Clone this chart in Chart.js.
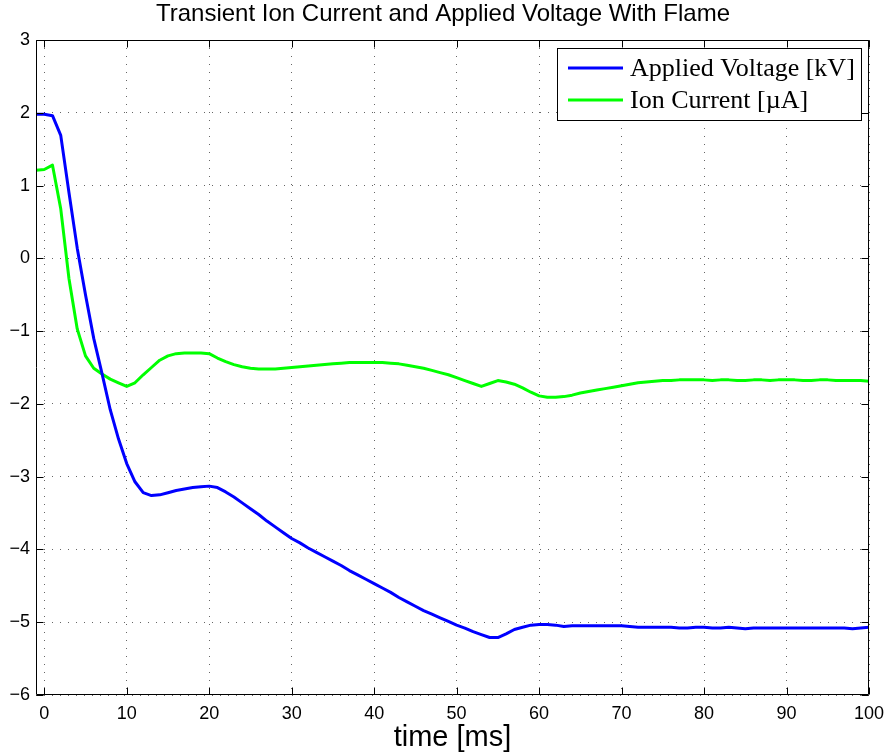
<!DOCTYPE html>
<html>
<head>
<meta charset="utf-8">
<script src="https://cdn.jsdelivr.net/npm/chart.js@4.4.0/dist/chart.umd.min.js"></script>
<style>
html, body { margin: 0; padding: 0; background: #fff; }
canvas { display: block; }
</style>
</head>
<body>
<canvas id="chart" width="886" height="755"></canvas>
<script>
const timeMs = [-1, 0, 1, 2, 3, 4, 5, 6, 7, 8, 9, 10, 11, 12, 13, 14, 15, 16, 17, 18, 19, 20,
    21, 22, 23, 24, 25, 26, 27, 28, 29, 30, 31, 32, 33, 34, 35, 36, 37, 38, 39, 40,
    41, 42, 43, 44, 45, 46, 47, 48, 49, 50, 51, 52, 53, 54, 55, 56, 57, 58, 59, 60,
    61, 62, 63, 64, 65, 66, 67, 68, 69, 70, 71, 72, 73, 74, 75, 76, 77, 78, 79, 80,
    81, 82, 83, 84, 85, 86, 87, 88, 89, 90, 91, 92, 93, 94, 95, 96, 97, 98, 99, 100];

const voltage = [1.98, 1.98, 1.96, 1.69, 0.90, 0.14, -0.50, -1.10, -1.58, -2.08, -2.48, -2.82,
    -3.07, -3.22, -3.26, -3.25, -3.22, -3.19, -3.17, -3.15, -3.14, -3.13,
    -3.15, -3.21, -3.28, -3.36, -3.44, -3.52, -3.61, -3.69, -3.77, -3.85,
    -3.91, -3.98, -4.04, -4.10, -4.16, -4.22, -4.29, -4.35, -4.41, -4.47,
    -4.53, -4.59, -4.66, -4.72, -4.78, -4.84, -4.89, -4.94, -4.99, -5.04,
    -5.08, -5.13, -5.17, -5.21, -5.21, -5.16, -5.10, -5.07, -5.04, -5.03,
    -5.03, -5.04, -5.06, -5.05, -5.05, -5.05, -5.05, -5.05, -5.05, -5.05,
    -5.06, -5.07, -5.07, -5.07, -5.07, -5.07, -5.08, -5.08, -5.07, -5.07,
    -5.08, -5.08, -5.07, -5.08, -5.09, -5.08, -5.08, -5.08, -5.08, -5.08,
    -5.08, -5.08, -5.08, -5.08, -5.08, -5.08, -5.08, -5.09, -5.08, -5.07];

const ionCurrent = [1.21, 1.22, 1.28, 0.68, -0.28, -0.97, -1.34, -1.51, -1.59, -1.66, -1.71, -1.76,
    -1.71, -1.60, -1.50, -1.40, -1.34, -1.31, -1.30, -1.30, -1.30, -1.31,
    -1.37, -1.42, -1.46, -1.49, -1.51, -1.52, -1.52, -1.52, -1.51, -1.50,
    -1.49, -1.48, -1.47, -1.46, -1.45, -1.44, -1.43, -1.43, -1.43, -1.43,
    -1.43, -1.44, -1.45, -1.47, -1.49, -1.51, -1.54, -1.57, -1.60, -1.64,
    -1.68, -1.72, -1.76, -1.72, -1.68, -1.70, -1.73, -1.78, -1.84, -1.89,
    -1.91, -1.91, -1.90, -1.88, -1.85, -1.83, -1.81, -1.79, -1.77, -1.75,
    -1.73, -1.71, -1.70, -1.69, -1.68, -1.68, -1.67, -1.67, -1.67, -1.67,
    -1.68, -1.67, -1.67, -1.68, -1.68, -1.67, -1.67, -1.68, -1.67, -1.67,
    -1.67, -1.68, -1.68, -1.67, -1.67, -1.68, -1.68, -1.68, -1.68, -1.69];

const xTicks = [0, 10, 20, 30, 40, 50, 60, 70, 80, 90, 100];
const yTicks = [-6, -5, -4, -3, -2, -1, 0, 1, 2, 3];

const sansFont = '"Liberation Sans", Arial, Helvetica, sans-serif';
const serifFont = '"Liberation Serif", "Times New Roman", serif';

function toPoints(values) {
    return timeMs.map((t, i) => ({ x: t, y: values[i] }));
}

// box round the plot with the inward ticks on all four sides
const frame = {
    id: 'frame',
    afterDatasetsDraw(chart) {
        const { ctx, chartArea: a, scales: { x, y } } = chart;
        const L = Math.round(a.left) + 0.5, R = Math.round(a.right) - 0.5;
        const T = Math.round(a.top) + 0.5, B = Math.round(a.bottom) - 0.5;
        const len = 7;
        ctx.save();
        ctx.strokeStyle = '#000';
        ctx.lineWidth = 1;
        ctx.beginPath();
        ctx.rect(L, T, R - L, B - T);
        xTicks.forEach(v => {
            const px = Math.round(x.getPixelForValue(v)) + 0.5;
            ctx.moveTo(px, B); ctx.lineTo(px, B - len);
            ctx.moveTo(px, T); ctx.lineTo(px, T + len);
        });
        yTicks.forEach(v => {
            const py = Math.round(y.getPixelForValue(v)) + 0.5;
            ctx.moveTo(L, py); ctx.lineTo(L + len, py);
            ctx.moveTo(R, py); ctx.lineTo(R - len, py);
        });
        ctx.stroke();
        ctx.restore();
    }
};

// legend box in the upper right corner, drawn like the matlab one
const boxLegend = {
    id: 'boxLegend',
    afterDraw(chart) {
        const { ctx, chartArea: a } = chart;
        const sets = chart.data.datasets;
        ctx.save();
        ctx.font = '26px ' + serifFont;
        const textW = Math.max(...sets.map(d => ctx.measureText(d.label).width));
        const w = Math.round(73 + textW + 6);
        const h = 72;
        const right = Math.round(a.right) - 8;
        const left = right - w;
        const top = Math.round(a.top) + 8;
        ctx.fillStyle = '#fff';
        ctx.fillRect(left, top, w, h);
        ctx.strokeStyle = '#000';
        ctx.lineWidth = 1;
        ctx.strokeRect(left + 0.5, top + 0.5, w, h);
        sets.forEach((d, i) => {
            const ry = top + 20 + i * 32;
            ctx.strokeStyle = d.borderColor;
            ctx.lineWidth = 3;
            ctx.beginPath();
            ctx.moveTo(left + 11, ry);
            ctx.lineTo(left + 66, ry);
            ctx.stroke();
            ctx.fillStyle = '#000';
            ctx.textBaseline = 'middle';
            ctx.fillText(d.label, left + 73, ry + 1);
        });
        ctx.restore();
    }
};

const chart = new Chart(document.getElementById('chart'), {
    type: 'line',
    data: {
        datasets: [
            {
                label: 'Applied Voltage [kV]',
                data: toPoints(voltage),
                borderColor: '#0000ff',
                borderWidth: 3
            },
            {
                label: 'Ion Current [\u00b5A]',
                data: toPoints(ionCurrent),
                borderColor: '#00ff00',
                borderWidth: 3
            }
        ]
    },
    options: {
        responsive: false,
        animation: false,
        devicePixelRatio: 1,
        layout: { padding: 0 },
        elements: {
            point: { radius: 0 },
            line: { tension: 0, borderCapStyle: 'round', borderJoinStyle: 'round' }
        },
        plugins: {
            legend: { display: false },
            tooltip: { enabled: false },
            title: {
                display: true,
                text: 'Transient Ion Current and Applied Voltage With Flame',
                color: '#000',
                font: { family: sansFont, size: 24, weight: 'normal', lineHeight: 1.2 },
                padding: { top: 0, bottom: 11.2 }
            }
        },
        scales: {
            x: {
                type: 'linear',
                min: -1,
                max: 100,
                afterBuildTicks: scale => {
                    scale.ticks = xTicks.map(v => ({ value: v }));
                },
                afterFit: scale => {
                    // room on the right is kept here so the title stays centred on the page
                    scale.height = 60;
                    scale.paddingLeft = 0;
                    scale.paddingRight = 17;
                },
                grid: { color: 'rgba(0,0,0,0.6)', lineWidth: 1, drawTicks: false },
                border: { display: false, dash: [1, 7] },
                ticks: {
                    color: '#000',
                    font: { family: sansFont, size: 18 },
                    padding: 8,
                    maxRotation: 0
                },
                title: {
                    display: true,
                    text: 'time [ms]',
                    color: '#000',
                    font: { family: sansFont, size: 29 },
                    padding: { top: 0, bottom: 0 }
                }
            },
            y: {
                min: -6,
                max: 3,
                afterBuildTicks: scale => {
                    scale.ticks = yTicks.map(v => ({ value: v }));
                },
                afterFit: scale => { scale.width = 36; },
                grid: { color: 'rgba(0,0,0,0.6)', lineWidth: 1, drawTicks: false },
                border: { display: false, dash: [1, 7] },
                ticks: {
                    color: '#000',
                    font: { family: sansFont, size: 18 },
                    padding: 6,
                    callback: v => String(v).replace('-', '\u2212')
                }
            }
        }
    },
    plugins: [frame, boxLegend]
});
</script>
</body>
</html>
